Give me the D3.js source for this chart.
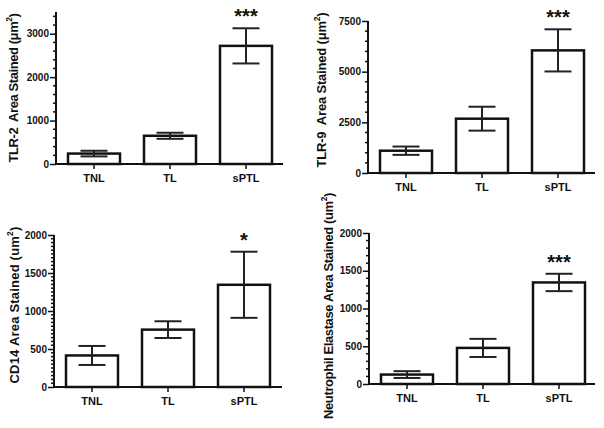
<!DOCTYPE html>
<html>
<head>
<meta charset="utf-8">
<script src="https://cdn.jsdelivr.net/npm/d3@7"></script>
<style>
  body { margin: 0; background: #fff; }
  svg { display: block; }
  text { font-family: "Liberation Sans", Arial, sans-serif; font-weight: bold; fill: #111; }
</style>
</head>
<body>
<svg id="chart" width="604" height="428"></svg>
<script>
// groups on the x axis
var groups = ["TNL", "TL", "sPTL"];

// mean and error (SEM) per panel
var tlr2Mean = [240, 650, 2720];
var tlr2Err  = [65, 70, 405];
var tlr9Mean = [1100, 2680, 6050];
var tlr9Err  = [205, 590, 1040];
var cd14Mean = [415, 755, 1345];
var cd14Err  = [125, 110, 435];
var neMean   = [125, 478, 1345];
var neErr    = [45, 120, 115];

// significance marks (only on sPTL)
var tlr2Sig = "***";
var tlr9Sig = "***";
var cd14Sig = "*";
var neSig   = "***";

// tick labels
var tlr2Ticks = [0, 1000, 2000, 3000];
var tlr9Ticks = [0, 2500, 5000, 7500];
var cd14Ticks = [0, 500, 1000, 1500, 2000];
var neTicks   = [0, 500, 1000, 1500, 2000];

var svg = d3.select("#chart");

var panels = [
  {mean: tlr2Mean, err: tlr2Err, sig: tlr2Sig, ticks: tlr2Ticks, max: 3500, minor: 200,
   label: "TLR-2  Area Stained (\u03bcm", fs: 13, len: 149,
   ax: 56, y0: 164, y1: 12, xr: 283, lx: 13, ly: 88},
  {mean: tlr9Mean, err: tlr9Err, sig: tlr9Sig, ticks: tlr9Ticks, max: 7500, minor: 500,
   label: "TLR-9  Area Stained (\u03bcm", fs: 13, len: 155,
   ax: 368, y0: 173, y1: 21, xr: 595, lx: 321, ly: 90},
  {mean: cd14Mean, err: cd14Err, sig: cd14Sig, ticks: cd14Ticks, max: 2000, minor: 50,
   label: "CD14 Area Stained (um", fs: 13, len: 157,
   ax: 54, y0: 387, y1: 235, xr: 282, lx: 14, ly: 305},
  {mean: neMean, err: neErr, sig: neSig, ticks: neTicks, max: 2000, minor: 100,
   label: "Neutrophil Elastase Area Stained (um", fs: 13, len: 226,
   ax: 369, y0: 384, y1: 233, xr: 595, lx: 328, ly: 306}
];

panels.forEach(function(p) {
  var g = svg.append("g");

  var x = d3.scaleBand()
    .domain(groups)
    .range([p.ax, p.ax + 228])
    .paddingInner(24 / 76)
    .paddingOuter(12 / 76);

  var y = d3.scaleLinear()
    .domain([0, p.max])
    .range([p.y0, p.y1]);

  // minor ticks
  var minorVals = d3.range(0, p.max + 1, p.minor).filter(function(v) {
    return p.ticks.indexOf(v) < 0;
  });
  g.selectAll(".minor").data(minorVals).enter().append("line")
    .attr("x1", p.ax - 3).attr("x2", p.ax)
    .attr("y1", function(d) { return y(d); })
    .attr("y2", function(d) { return y(d); })
    .attr("stroke", "#111").attr("stroke-width", 1.5);

  // y axis
  var yAxis = g.append("g")
    .attr("transform", "translate(" + p.ax + ",0)")
    .call(d3.axisLeft(y).tickValues(p.ticks).tickSize(6).tickPadding(1).tickFormat(d3.format("d")));
  yAxis.select(".domain").attr("stroke-width", 2).attr("stroke", "#111")
    .attr("d", "M0," + p.y1 + "V" + p.y0);
  yAxis.selectAll(".tick line").attr("stroke-width", 1.5).attr("stroke", "#111");
  yAxis.selectAll(".tick text").style("font-size", "10px").attr("fill", "#111")
    .style("font-family", "Liberation Sans, Arial, sans-serif").style("font-weight", "bold");

  // bars
  g.selectAll(".bar").data(p.mean).enter().append("rect")
    .attr("x", function(d, i) { return x(groups[i]); })
    .attr("width", x.bandwidth())
    .attr("y", function(d) { return y(d); })
    .attr("height", function(d) { return p.y0 - y(d); })
    .attr("fill", "#fff").attr("stroke", "#111").attr("stroke-width", 2.5);

  // error bars
  var cap = 13.5;
  p.mean.forEach(function(m, i) {
    var cx = x(groups[i]) + x.bandwidth() / 2;
    var hi = y(m + p.err[i]), lo = y(m - p.err[i]);
    g.append("line").attr("x1", cx).attr("x2", cx).attr("y1", hi).attr("y2", lo)
      .attr("stroke", "#222").attr("stroke-width", 2);
    [hi, lo].forEach(function(yy) {
      g.append("line").attr("x1", cx - cap).attr("x2", cx + cap).attr("y1", yy).attr("y2", yy)
        .attr("stroke", "#222").attr("stroke-width", 2);
    });
  });

  // x axis
  g.append("line").attr("x1", p.ax - 1).attr("x2", p.xr).attr("y1", p.y0).attr("y2", p.y0)
    .attr("stroke", "#111").attr("stroke-width", 2);
  groups.forEach(function(gr) {
    var cx = x(gr) + x.bandwidth() / 2;
    g.append("line").attr("x1", cx).attr("x2", cx).attr("y1", p.y0).attr("y2", p.y0 + 5)
      .attr("stroke", "#111").attr("stroke-width", 1.5);
    g.append("text").attr("x", cx).attr("y", p.y0 + 18)
      .attr("text-anchor", "middle").style("font-size", "11px").text(gr);
  });

  // significance
  var last = groups.length - 1;
  var top = y(p.mean[last] + p.err[last]);
  g.append("text")
    .attr("x", x(groups[last]) + x.bandwidth() / 2)
    .attr("y", top - 16 + 11)
    .attr("text-anchor", "middle")
    .style("font-size", "20px")
    .text(p.sig);

  // y label, with a raised small "2"
  var lab = g.append("text")
    .attr("transform", "translate(" + p.lx + "," + p.ly + ") rotate(-90)")
    .attr("text-anchor", "middle")
    .attr("dy", "0.35em")
    .style("white-space", "pre")
    .style("font-size", p.fs + "px");
  lab.append("tspan").text(p.label);
  lab.append("tspan").attr("dy", -p.fs * 0.4).style("font-size", (p.fs * 0.65) + "px").text("2");
  lab.append("tspan").attr("dy", p.fs * 0.4).text(")");
  var w = lab.node().getComputedTextLength();
  var n = lab.text().length;
  if (w > 0) {
    lab.style("letter-spacing", ((p.len - w) / n) + "px");
  }
});
</script>
</body>
</html>
